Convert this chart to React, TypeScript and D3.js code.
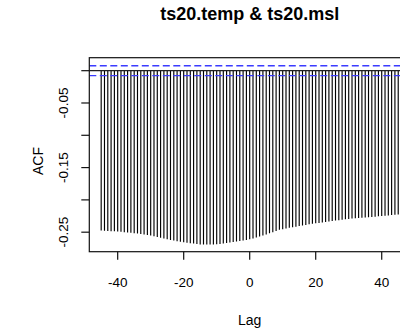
import React from "react";
import * as d3 from "d3";

// cross-correlation ts20.temp vs ts20.msl, lags -45..45
const lags = d3.range(-45, 46);
const acf = [
  -0.2475, -0.2478, -0.2481, -0.2484, -0.2487, -0.249, -0.2494, -0.2499, -0.2504, -0.2509,
  -0.2515, -0.2522, -0.2529, -0.2537, -0.2545, -0.2553, -0.2564, -0.2576, -0.2587, -0.2598,
  -0.261, -0.262, -0.263, -0.2639, -0.2647, -0.2655, -0.2662, -0.267, -0.2677, -0.2684,
  -0.2689, -0.2691, -0.2692, -0.2691, -0.2689, -0.2686, -0.2681, -0.2675, -0.2668, -0.266,
  -0.2651, -0.2643, -0.2635, -0.2627, -0.2619, -0.261, -0.2596, -0.2582, -0.2567, -0.2551,
  -0.2534, -0.2516, -0.2499, -0.2481, -0.2464, -0.2453, -0.2443, -0.2433, -0.2423, -0.2414,
  -0.2405, -0.2396, -0.2387, -0.2379, -0.2371, -0.2363, -0.2356, -0.2349, -0.2342, -0.2335,
  -0.2328, -0.232, -0.2314, -0.2308, -0.2301, -0.2295, -0.2289, -0.2283, -0.2279, -0.2275,
  -0.2271, -0.2267, -0.2264, -0.226, -0.2255, -0.225, -0.2245, -0.224, -0.2235, -0.223,
  -0.2225,
];
const ci = 0.0077;
const xTicks = [-40, -20, 0, 20, 40];
const yTicks = [0, -0.05, -0.1, -0.15, -0.2, -0.25];
const yLabels = [-0.05, -0.15, -0.25];

const font = "'Liberation Sans', Arial, sans-serif";

export default function App() {
  const left = 89.3, right = 410.1, top = 57.7, bottom = 251.7;
  const x = d3.scaleLinear().domain([-48.6, 48.6]).range([left, right]);
  const y = d3.scaleLinear().domain([-0.2802, 0.0201]).range([bottom, top]);
  const tick = 8;

  return (
    <svg width={400} height={333} style={{ position: "absolute", left: 0, top: 0 }}>
      <defs>
        <clipPath id="plot">
          <rect x={left} y={top} width={right - left} height={bottom - top} />
        </clipPath>
      </defs>
      <g clipPath="url(#plot)">
        {lags.map((l, i) => (
          <line key={l} x1={x(l)} x2={x(l)} y1={y(0)} y2={y(acf[i])} stroke="#000" strokeWidth={1.15} />
        ))}
        <line x1={left} x2={right} y1={y(0)} y2={y(0)} stroke="#222" strokeWidth={1.2} />
        {[ci, -ci].map((c) => (
          <line key={c} x1={left} x2={right} y1={y(c)} y2={y(c)} stroke="#3b3bff" strokeWidth={1.4} strokeDasharray="7,3.5" />
        ))}
      </g>
      <rect x={left} y={top} width={right - left} height={bottom - top} fill="none" stroke="#111" strokeWidth={1.2} />

      {/* x axis */}
      {xTicks.map((t) => (
        <g key={t}>
          <line x1={x(t)} x2={x(t)} y1={bottom} y2={bottom + tick} stroke="#111" strokeWidth={1.2} />
          <text x={x(t)} y={286.5} textAnchor="middle" fontFamily={font} fontSize={13.5}>
            {t}
          </text>
        </g>
      ))}

      {/* y axis */}
      {yTicks.map((t) => (
        <line key={t} x1={left - tick} x2={left} y1={y(t)} y2={y(t)} stroke="#111" strokeWidth={1.2} />
      ))}
      {yLabels.map((t) => (
        <text key={t} transform={`translate(68.3,${y(t)}) rotate(-90)`} textAnchor="middle" fontFamily={font} fontSize={13.5}>
          {d3.format(".2f")(t).replace("−", "-")}
        </text>
      ))}

      <text x={(left + right) / 2} y={325} textAnchor="middle" fontFamily={font} fontSize={14}>
        Lag
      </text>
      <text transform={`translate(43.3,161) rotate(-90)`} textAnchor="middle" fontFamily={font} fontSize={14}>
        ACF
      </text>
      <text x={(left + right) / 2} y={20} textAnchor="middle" fontFamily={font} fontSize={18} fontWeight="bold">
        ts20.temp &amp; ts20.msl
      </text>
    </svg>
  );
}
